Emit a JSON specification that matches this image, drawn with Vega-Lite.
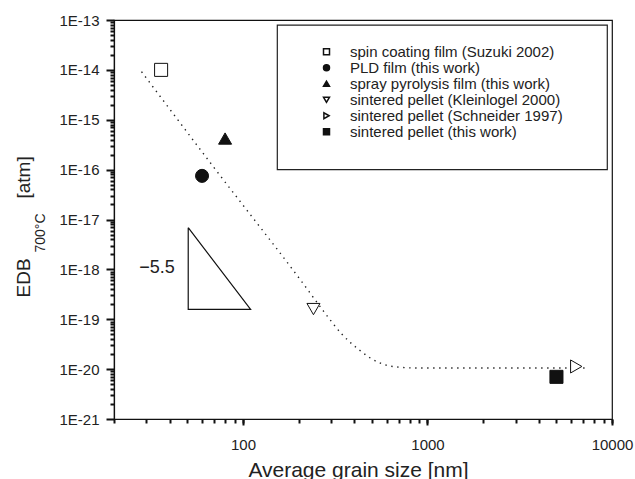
{
  "$schema": "https://vega.github.io/schema/vega-lite/v6.json",
  "width": 498,
  "height": 399,
  "autosize": "none",
  "padding": {"left": 114, "top": 20, "right": 23, "bottom": 60},
  "config": {
    "font": "Liberation Sans",
    "view": {"stroke": "#111", "strokeWidth": 1.2}
  },
  "resolve": {"axis": {"y": "independent", "x": "independent"}},
  "layer": [
    {
      "data": {"values": [{"x": 153.5, "x2": 9430, "y": 7.9e-14, "y2": 1e-16}]},
      "mark": {"type": "rect", "filled": false, "stroke": "#222", "strokeWidth": 1.2},
      "encoding": {
        "x": {"field": "x", "type": "quantitative", "scale": {"type": "log", "domain": [20, 10000], "nice": false},
          "axis": {
            "orient": "bottom",
            "title": "Average grain size [nm]",
            "tickCount": 2,
            "format": "d",
            "grid": false,
            "tickSize": 6,
            "tickColor": "#111",
            "tickWidth": 2,
            "domainColor": "#111",
            "domainWidth": 1.2,
            "labelColor": "#222",
            "titleColor": "#222",
            "titleFontWeight": "normal",
            "labelFlush": false,
            "labelOverlap": false,
            "labelFontSize": 15,
            "labelPadding": 12,
            "titleFontSize": 21,
            "titleX": 244,
            "titleY": 57,
            "titleAlign": "center",
            "titleBaseline": "alphabetic"
          }},
        "x2": {"field": "x2"},
        "y": {"field": "y", "type": "quantitative", "scale": {"type": "log", "domain": [1e-21, 1e-13], "nice": false},
          "axis": {
            "orient": "left",
            "title": "EDB",
            "values": [1e-21, 1e-20, 1e-19, 1e-18, 1e-17, 1e-16, 1e-15, 1e-14, 1e-13],
            "labelExpr": "'1E' + round(log(datum.value)/LN10)",
            "gridOpacity": 0,
            "tickSize": 8,
            "tickColor": "#111",
            "tickWidth": 2,
            "domainColor": "#111",
            "domainWidth": 1.2,
            "labelColor": "#222",
            "titleColor": "#222",
            "titleFontWeight": "normal",
            "labelFlush": false,
            "labelOverlap": false,
            "labelFontSize": 15,
            "labelPadding": 7,
            "titleFontSize": 19,
            "titleAngle": 270,
            "titleX": -85,
            "titleY": 277,
            "titleAlign": "left",
            "titleBaseline": "alphabetic"
          }},
        "y2": {"field": "y2"}
      }
    },
    {
      "data": {"values": [{"x": 50.5, "y": 6.85e-18}, {"x": 50.5, "y": 1.58e-19}, {"x": 110, "y": 1.58e-19}, {"x": 50.5, "y": 6.85e-18}]},
      "mark": {"type": "line", "stroke": "#111", "strokeWidth": 1.2},
      "encoding": {
        "x": {"field": "x", "type": "quantitative",
          "axis": {"orient": "bottom", "title": null, "labels": false, "domain": false, "gridOpacity": 0, "tickSize": 4, "tickColor": "#111", "tickWidth": 2, "tickCount": 20}},
        "y": {"field": "y", "type": "quantitative",
          "axis": {"orient": "left", "title": "700°C", "labels": false, "domain": false, "gridOpacity": 0, "tickSize": 4, "tickColor": "#111", "tickWidth": 2,
            "values": [2e-21,3e-21,4e-21,5e-21,6e-21,7e-21,8e-21,9e-21,2e-20,3e-20,4e-20,5e-20,6e-20,7e-20,8e-20,9e-20,2e-19,3e-19,4e-19,5e-19,6e-19,7e-19,8e-19,9e-19,2e-18,3e-18,4e-18,5e-18,6e-18,7e-18,8e-18,9e-18,2e-17,3e-17,4e-17,5e-17,6e-17,7e-17,8e-17,9e-17,2e-16,3e-16,4e-16,5e-16,6e-16,7e-16,8e-16,9e-16,2e-15,3e-15,4e-15,5e-15,6e-15,7e-15,8e-15,9e-15,2e-14,3e-14,4e-14,5e-14,6e-14,7e-14,8e-14,9e-14],
            "titleColor": "#222", "titleFontWeight": "normal", "titleFontSize": 14, "titleAngle": 270, "titleX": -70, "titleY": 232, "titleAlign": "left", "titleBaseline": "alphabetic"}},
        "order": {"value": null}
      }
    },
    {
      "data": {"values": [{"x": 42.7, "y": 1.08e-18, "label": "−5.5"}]},
      "mark": {"type": "text", "align": "right", "baseline": "middle", "fontSize": 18, "color": "#222"},
      "encoding": {
        "x": {"field": "x", "type": "quantitative", "axis": null},
        "y": {"field": "y", "type": "quantitative",
          "axis": {"orient": "left", "title": "[atm]", "labels": false, "ticks": false, "domain": false, "grid": false, "titleColor": "#222", "titleFontWeight": "normal", "titleFontSize": 19, "titleAngle": 270, "titleX": -85, "titleY": 178, "titleAlign": "left", "titleBaseline": "alphabetic"}},
        "text": {"field": "label"}
      }
    },
    {
      "data": {"values": [
        {"x": 28.2, "y": 9.2e-15},
        {"x": 69, "y": 1.15e-16},
        {"x": 208, "y": 5.7e-19},
        {"x": 273, "y": 1.46e-19},
        {"x": 344, "y": 5e-20},
        {"x": 427, "y": 2.42e-20},
        {"x": 532, "y": 1.41e-20},
        {"x": 662, "y": 1.12e-20},
        {"x": 895, "y": 1.05e-20},
        {"x": 7350, "y": 1.05e-20}
      ]},
      "mark": {"type": "line", "interpolate": "monotone", "stroke": "#222", "strokeWidth": 1.4, "strokeDash": [1.4, 4.6]},
      "encoding": {
        "x": {"field": "x", "type": "quantitative", "axis": null},
        "y": {"field": "y", "type": "quantitative", "axis": null}
      }
    },
    {
      "data": {"values": [
        {"x": 36, "y": 1e-14, "series": "spin coating film (Suzuki 2002)"},
        {"x": 60, "y": 7.5e-17, "series": "PLD film (this work)"},
        {"x": 80, "y": 4.2e-16, "series": "spray pyrolysis film (this work)"},
        {"x": 241, "y": 1.6e-19, "series": "sintered pellet (Kleinlogel 2000)"},
        {"x": 6400, "y": 1.13e-20, "series": "sintered pellet (Schneider 1997)"},
        {"x": 5000, "y": 7e-21, "series": "sintered pellet (this work)"}
      ]},
      "mark": {"type": "point", "filled": true, "stroke": "#111", "strokeWidth": 1, "size": 170, "opacity": 1},
      "encoding": {
        "x": {"field": "x", "type": "quantitative", "axis": null},
        "y": {"field": "y", "type": "quantitative", "axis": null},
        "shape": {"field": "series", "type": "nominal",
          "scale": {"domain": ["spin coating film (Suzuki 2002)", "PLD film (this work)", "spray pyrolysis film (this work)", "sintered pellet (Kleinlogel 2000)", "sintered pellet (Schneider 1997)", "sintered pellet (this work)"],
            "range": ["square", "circle", "triangle-up", "triangle-down", "triangle-right", "square"]},
          "legend": {"title": null, "orient": "none", "legendX": 205, "legendY": 25, "labelFontSize": 15, "labelColor": "#222", "labelLimit": 400, "labelOffset": 16, "symbolSize": 36, "clipHeight": 13.5, "rowPadding": 0,
            "encode": {"symbols": {"update": {"stroke": {"value": "#111"}, "strokeWidth": {"value": 1}, "opacity": {"value": 1}}}}}},
        "fill": {"field": "series", "type": "nominal",
          "scale": {"domain": ["spin coating film (Suzuki 2002)", "PLD film (this work)", "spray pyrolysis film (this work)", "sintered pellet (Kleinlogel 2000)", "sintered pellet (Schneider 1997)", "sintered pellet (this work)"],
            "range": ["white", "#111", "#111", "white", "white", "#111"]},
          "legend": {"title": null, "orient": "none", "legendX": 205, "legendY": 25, "labelFontSize": 15, "labelColor": "#222", "labelLimit": 400, "labelOffset": 16, "symbolSize": 36, "clipHeight": 13.5, "rowPadding": 0,
            "encode": {"symbols": {"update": {"stroke": {"value": "#111"}, "strokeWidth": {"value": 1}, "opacity": {"value": 1}}}}}}
      }
    }
  ]
}
